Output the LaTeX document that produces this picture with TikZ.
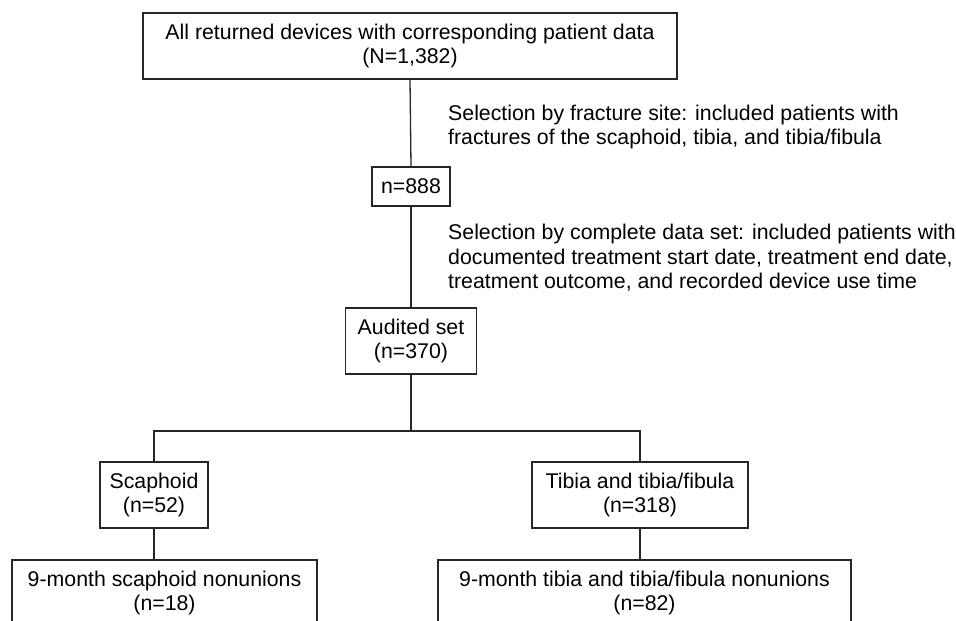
\documentclass[tikz,border=0pt]{standalone}
\usepackage{fontspec}
\setmainfont{Liberation Sans}
\begin{document}
\begin{tikzpicture}[x=1pt,y=-1pt,
  box/.style={draw=black!85,line width=1.3pt,inner sep=0pt,align=center,
    font=\fontsize{21.3}{24.5}\selectfont},
  note/.style={inner sep=0pt,align=left,anchor=west,
    font=\fontsize{21.3}{24.5}\selectfont},
  conn/.style={draw=black!85,line width=1.3pt}]
\useasboundingbox (0,0) rectangle (956,621);
\clip (0,0) rectangle (956,621);
\node[box,minimum width=534pt,minimum height=66pt] (top) at (410,46)
  {All returned devices with corresponding patient data\\(N=1,382)};
\node[box,minimum width=78pt,minimum height=39pt] (n888) at (411,186.5) {n=888};
\node[box,minimum width=131pt,minimum height=66pt] (aud) at (411,341) {Audited set\\(n=370)};
\node[box,minimum width=108pt,minimum height=66pt] (scaph) at (154,495) {Scaphoid\\(n=52)};
\node[box,minimum width=216pt,minimum height=66pt] (tib) at (640,495) {Tibia and tibia/fibula\\(n=318)};
\node[box,minimum width=305pt,minimum height=66pt] (bl) at (164.5,593) {9-month scaphoid nonunions\\(n=18)};
\node[box,minimum width=413pt,minimum height=66pt] (br) at (644.5,593) {9-month tibia and tibia/fibula nonunions\\(n=82)};
\node[note] (sel1) at (448,127) {Selection by fracture site: included patients with\\fractures of the scaphoid, tibia, and tibia/fibula};
\node[note] (sel2) at (448,258) {Selection by complete data set: included patients with\\documented treatment start date, treatment end date,\\treatment outcome, and recorded device use time};
\coordinate (split) at (411,431);
\draw[conn] (top.south) -- (n888.north);
\draw[conn] (n888.south) -- (aud.north);
\draw[conn] (aud.south) -- (split);
\draw[conn] (scaph.north) |- (split) -| (tib.north);
\draw[conn] (scaph.south) -- (scaph.south |- bl.north);
\draw[conn] (tib.south) -- (tib.south |- br.north);
\end{tikzpicture}
\end{document}
